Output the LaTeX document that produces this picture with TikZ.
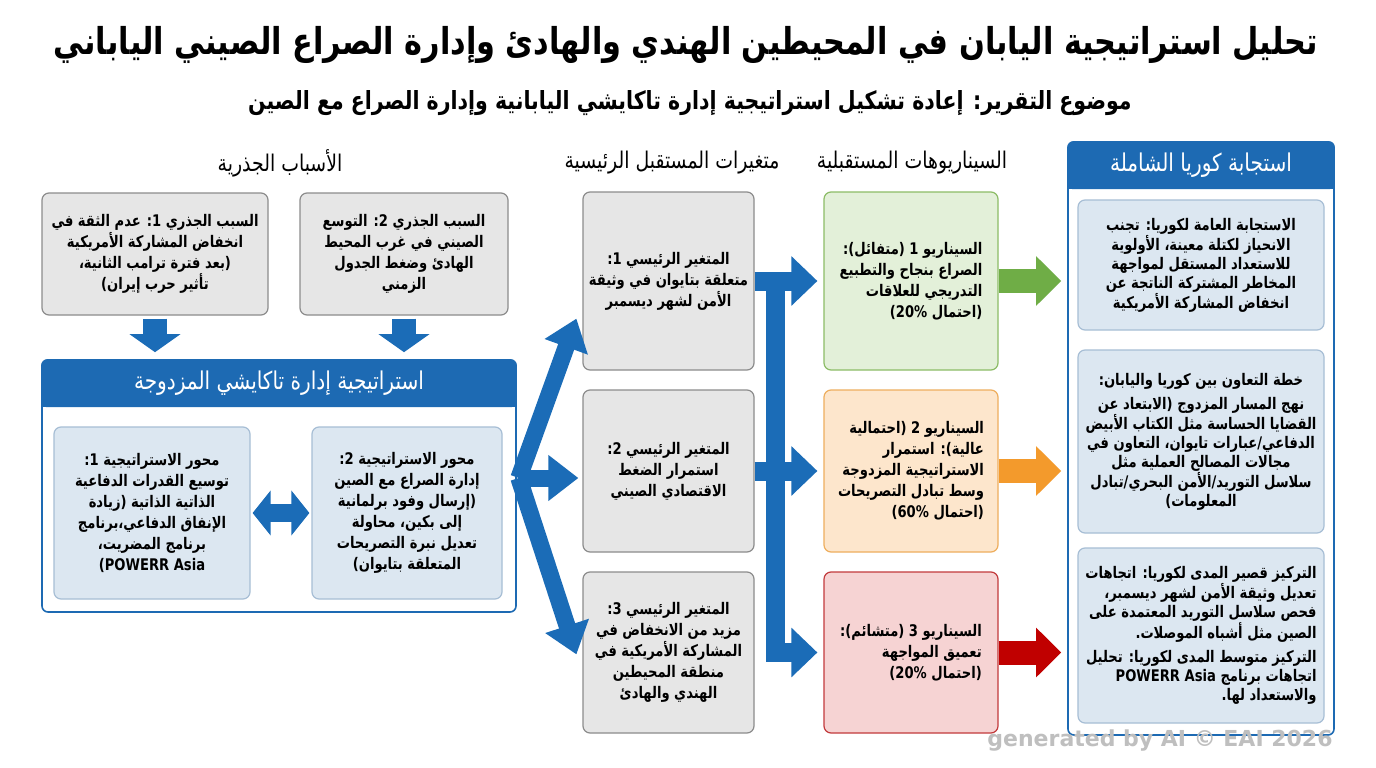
\documentclass[tikz,border=0pt]{standalone}
\usepackage{fontspec}
\usetikzlibrary{arrows.meta,calc}
\TeXXeTstate=1
\newfontfamily\arabicfont[Script=Arabic, FakeStretch=0.82]{DejaVu Sans}
\newfontfamily\latinfont{DejaVu Sans}
\newcommand\AR[1]{\beginR#1\endR}
\newcommand\boxfont{\arabicfont\bfseries\fontsize{16}{21}\selectfont}
\newcommand\kboxfont{\arabicfont\bfseries\fontsize{16}{19}\selectfont}
\definecolor{arrblue}{HTML}{1B6CB7}
\definecolor{frameblue}{HTML}{1D6AB3}
\definecolor{graybg}{HTML}{E6E6E6}
\definecolor{grayline}{HTML}{8C8C8C}
\definecolor{lbluebg}{HTML}{DCE7F1}
\definecolor{lblueline}{HTML}{A7BED5}
\definecolor{greenbg}{HTML}{E3F0D9}
\definecolor{greenline}{HTML}{8CBC66}
\definecolor{orangebg}{HTML}{FDE6CC}
\definecolor{orangeline}{HTML}{EEAE5E}
\definecolor{redbg}{HTML}{F6D3D3}
\definecolor{redline}{HTML}{C23A3C}
\definecolor{garrow}{HTML}{6FAD46}
\definecolor{oarrow}{HTML}{F39A2C}
\definecolor{rarrow}{HTML}{C00000}
\begin{document}
\begin{tikzpicture}[x=1pt,y=-1pt,
  sz/.style 2 args={minimum width=#1pt, minimum height=#2pt},
  box/.style={rounded corners=7pt, line width=1.2pt, align=center, inner sep=3pt, font=\boxfont},
  graybox/.style={box, fill=graybg, draw=grayline},
  bluebox/.style={box, fill=lbluebg, draw=lblueline},
  kbox/.style={bluebox, font=\kboxfont},
  greenbox/.style={box, fill=greenbg, draw=greenline},
  orangebox/.style={box, fill=orangebg, draw=orangeline},
  redbox/.style={box, fill=redbg, draw=redline},
  framebox/.style={draw=frameblue, line width=1.6pt, rounded corners=6pt, fill=white},
  hdrtext/.style={text=white, font=\arabicfont\fontsize{24.5}{28}\selectfont},
  sechdr/.style={font=\arabicfont\fontsize{23}{26}\selectfont},
  downarr/.style={draw=arrblue, line width=24pt, -{Triangle[length=18pt,width=50pt]}},
  fanarr/.style={draw=arrblue, line width=17pt, -{Triangle[length=30pt,width=44pt]}},
  varr/.style={draw=arrblue, line width=19pt, line join=miter, -{Triangle[length=26pt,width=48pt]}},
  karr/.style={line width=24pt, -{Triangle[length=25pt,width=48pt]}},
  dblarr/.style={draw=arrblue, line width=18pt, {Triangle[length=18pt,width=44pt]}-{Triangle[length=18pt,width=44pt]}}
]
\useasboundingbox (0,0) rectangle (1376,768);
\fill[white] (0,0) rectangle (1376,768);

% titles
\node[font=\arabicfont\bfseries\fontsize{37}{42}\selectfont] (title) at (686,45) {\AR{تحليل استراتيجية اليابان في المحيطين الهندي والهادئ وإدارة الصراع الصيني الياباني}};
\node[font=\arabicfont\bfseries\fontsize{25}{28}\selectfont] (subtitle) at (690,103) {\AR{موضوع التقرير: إعادة تشكيل استراتيجية إدارة تاكايشي اليابانية وإدارة الصراع مع الصين}};

% section headers
\node[sechdr] (h1) at (280,163) {\AR{الأسباب الجذرية}};
\node[sechdr] (h2) at (672,163) {\AR{متغيرات المستقبل الرئيسية}};
\node[sechdr] (h3) at (912,163) {\AR{السيناريوهات المستقبلية}};

% root causes
\node[graybox, sz={226}{122}] (rc1) at (155,254) {\AR{السبب الجذري 1: عدم الثقة في}\\\AR{انخفاض المشاركة الأمريكية}\\\AR{(بعد فترة ترامب الثانية،}\\\AR{تأثير حرب إيران)}};
\node[graybox, sz={208}{122}] (rc2) at (404,254) {\AR{السبب الجذري 2: التوسع}\\\AR{الصيني في غرب المحيط}\\\AR{الهادئ وضغط الجدول}\\\AR{الزمني}};

% strategy frame
\node[framebox, sz={474}{252}] (strat) at (279,486) {};
\fill[frameblue, rounded corners=6pt] (strat.north west) rectangle ($(strat.north east)+(0,48)$);
\fill[frameblue] ($(strat.north west)+(0,24)$) rectangle ($(strat.north east)+(0,48)$);
\node[hdrtext] (stratH) at ($(strat.north)+(0,24)$) {\AR{استراتيجية إدارة تاكايشي المزدوجة}};

\node[bluebox, sz={196}{172}] (sa1) at (152,513) {\AR{محور الاستراتيجية 1:}\\\AR{توسيع القدرات الدفاعية}\\\AR{الذاتية الذاتية (زيادة}\\\AR{الإنفاق الدفاعي،برنامج}\\\AR{برنامج المضريت،}\\\AR{\beginL POWERR Asia\endL)}};
\node[bluebox, sz={190}{172}] (sa2) at (407,513) {\AR{محور الاستراتيجية 2:}\\\AR{إدارة الصراع مع الصين}\\\AR{(إرسال وفود برلمانية}\\\AR{إلى بكين، محاولة}\\\AR{تعديل نبرة التصريحات}\\\AR{المتعلقة بتايوان)}};

% variables
\node[graybox, sz={171}{178}] (v1) at (668.5,281) {\AR{المتغير الرئيسي 1:}\\\AR{متعلقة بتايوان في وثيقة}\\\AR{الأمن لشهر ديسمبر}};
\node[graybox, sz={171}{162}] (v2) at (668.5,471) {\AR{المتغير الرئيسي 2:}\\\AR{استمرار الضغط}\\\AR{الاقتصادي الصيني}};
\node[graybox, sz={171}{161}] (v3) at (668.5,652.5) {\AR{المتغير الرئيسي 3:}\\\AR{مزيد من الانخفاض في}\\\AR{المشاركة الأمريكية في}\\\AR{منطقة المحيطين}\\\AR{الهندي والهادئ}};

% scenarios
\node[greenbox, align=right, sz={174}{178}] (s1) at (911,281) {\AR{السيناريو 1 (متفائل):}\\\AR{الصراع بنجاح والتطبيع}\\\AR{التدريجي للعلاقات}\\\AR{(احتمال 20\%)}};
\node[orangebox, align=right, sz={174}{162}] (s2) at (911,471) {\AR{السيناريو 2 (احتمالية}\\\AR{عالية): استمرار}\\\AR{الاستراتيجية المزدوجة}\\\AR{وسط تبادل التصريحات}\\\AR{(احتمال 60\%)}};
\node[redbox, align=right, sz={174}{161}] (s3) at (911,652.5) {\AR{السيناريو 3 (متشائم):}\\\AR{تعميق المواجهة}\\\AR{(احتمال 20\%)}};

% Korea frame
\node[framebox, sz={266}{593}] (korea) at (1201,438.5) {};
\fill[frameblue, rounded corners=6pt] (korea.north west) rectangle ($(korea.north east)+(0,48)$);
\fill[frameblue] ($(korea.north west)+(0,24)$) rectangle ($(korea.north east)+(0,48)$);
\node[hdrtext] (koreaH) at ($(korea.north)+(0,24)$) {\AR{استجابة كوريا الشاملة}};

\node[kbox, sz={246}{130}] (k1) at (1201,265) {\AR{الاستجابة العامة لكوريا: تجنب}\\\AR{الانحياز لكتلة معينة، الأولوية}\\\AR{للاستعداد المستقل لمواجهة}\\\AR{المخاطر المشتركة الناتجة عن}\\\AR{انخفاض المشاركة الأمريكية}};
\node[kbox, sz={246}{183}] (k2) at (1201,441.5) {\AR{خطة التعاون بين كوريا واليابان:}\\[5pt]\AR{نهج المسار المزدوج (الابتعاد عن}\\\AR{القضايا الحساسة مثل الكتاب الأبيض}\\\AR{الدفاعي/عبارات تايوان، التعاون في}\\\AR{مجالات المصالح العملية مثل}\\\AR{سلاسل التوريد/الأمن البحري/تبادل}\\\AR{المعلومات)}};
\node[kbox, align=right, sz={246}{175}] (k3) at (1201,635.5) {\AR{التركيز قصير المدى لكوريا: اتجاهات}\\\AR{تعديل وثيقة الأمن لشهر ديسمبر،}\\\AR{فحص سلاسل التوريد المعتمدة على}\\\AR{الصين مثل أشباه الموصلات.}\\[5pt]\AR{التركيز متوسط المدى لكوريا: تحليل}\\\AR{اتجاهات برنامج \beginL POWERR Asia\endL{}}\\\AR{والاستعداد لها.}};

% arrows: root causes -> strategy
\draw[downarr, shorten <=3pt, shorten >=7pt] (rc1.south) -- (rc1.south |- strat.north);
\draw[downarr, shorten <=3pt, shorten >=7pt] (rc2.south) -- (rc2.south |- strat.north);

% double arrow between axes
\draw[dblarr, shorten <=2pt, shorten >=2pt] (sa1.east) -- (sa2.west);

% fan: strategy -> variables
\coordinate (fan) at ($(strat.east)+(2,-8)$);
\draw[fanarr] (fan) -- ($(v1.south west)+(-6,-52)$);
\draw[fanarr] (fan) -- ($(fan -| v2.west)+(-4,0)$);
\draw[fanarr] (fan) -- ($(v3.north west)+(-6,83)$);

% variables -> scenarios
\coordinate (bus) at ($(v1.east)!0.3!(s1.west)$);
\draw[varr, shorten >=6pt] (bus) |- (s3.west);
\draw[varr, shorten >=6pt] (v1.east) -- (s1.west);
\draw[varr, shorten >=6pt] (v2.east) -- (s2.west);

% scenarios -> Korea
\draw[karr, draw=garrow, shorten >=6pt] (s1.east) -- (s1.east -| korea.west);
\draw[karr, draw=oarrow, shorten >=6pt] (s2.east) -- (s2.east -| korea.west);
\draw[karr, draw=rarrow, shorten >=6pt] (s3.east) -- (s3.east -| korea.west);

% watermark
\node[font=\latinfont\bfseries\fontsize{22}{24}\selectfont, text=gray!50] (wm) at (1160,741) {generated by AI © EAI 2026};
\end{tikzpicture}
\end{document}
